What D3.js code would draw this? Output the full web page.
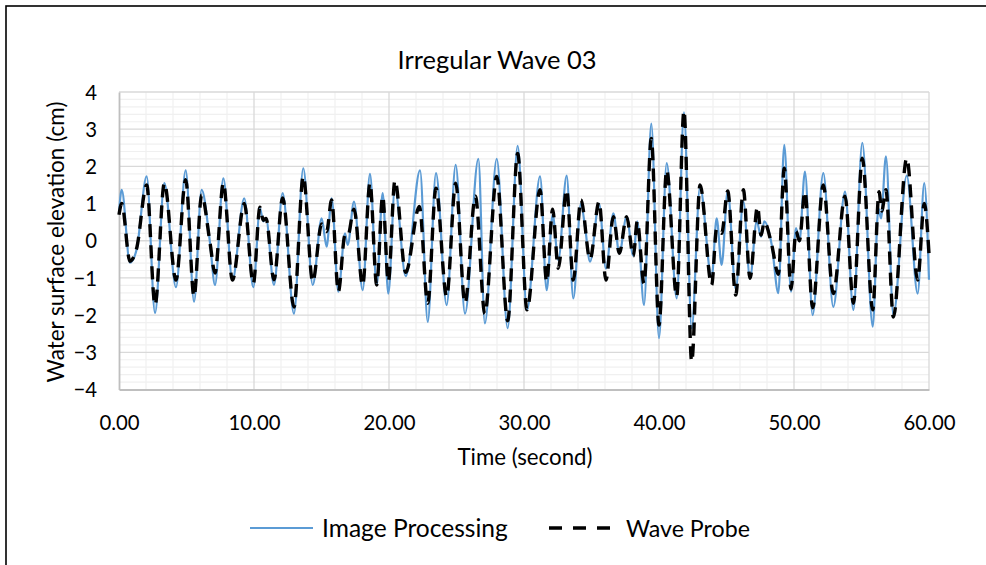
<!DOCTYPE html>
<html>
<head>
<meta charset="utf-8">
<script src="https://cdn.jsdelivr.net/npm/d3@7/dist/d3.min.js"></script>
<style>
  body { margin: 0; background: #fff; }
  svg text { font-family: Lato, "Open Sans", sans-serif; fill: #000; }
</style>
</head>
<body>
<svg id="chart" width="986" height="565"></svg>
<script>
// peaks and troughs, seconds / cm
const ipTime = [0, 0.2, 0.81, 1.31, 2.05, 2.67, 3.36, 4.22, 4.94, 5.56, 6.12, 6.74, 7.11, 7.73, 8.4, 9.28, 9.95,
  10.44, 10.69, 10.89, 11.48, 12.12, 12.96, 13.65, 14.35, 15.01, 15.38, 15.75, 16.25, 16.74, 16.94, 17.41, 18.05,
  18.59, 19.09, 19.53, 19.95, 20.44, 21.24, 22.3, 22.87, 23.48, 24.27, 24.94, 25.63, 26.62, 27.1, 27.98, 28.79,
  29.53, 30.22, 31.19, 31.68, 32.12, 32.54, 33.16, 33.65, 34.22, 34.52, 34.89, 35.56, 36.07, 36.62, 37.06, 37.6,
  38.1, 38.39, 38.89, 39.43, 40.0, 40.57, 41.31, 41.85, 42.42, 43.04, 43.9, 44.27, 44.64, 45.09, 45.68, 46.25,
  46.74, 47.24, 47.56, 47.8, 48.35, 48.84, 49.28, 49.78, 50.15, 50.4, 50.81, 51.38, 52.17, 52.91, 53.78, 54.4,
  55.06, 55.83, 56.25, 56.45, 56.81, 57.36, 58.35, 59.16, 59.65, 60];
const ipValue = [0.75, 1.37, -0.59, -0.23, 1.73, -1.94, 1.55, -1.25, 1.89, -1.64, 1.37, -0.05, -1.19, 1.68, -1.06, 1.14, -1.25,
  0.87, 0.52, 0.6, -1.19, 1.28, -1.96, 1.95, -1.19, 0.6, -0.16, 1.14, -1.37, 0.2, -0.11, 1.05, -1.33,
  1.8, -1.19, 1.28, -1.42, 1.42, -0.95, 1.89, -2.18, 1.82, -1.73, 2.04, -1.96, 2.2, -2.22, 2.2, -2.35,
  2.55, -1.86, 1.73, -1.33, 0.7, -0.52, 1.75, -1.55, 1.0, 0.38, -0.56, 1.0, -0.75, 0.74, -0.34, 0.65,
  -0.41, 0.52, -1.73, 3.15, -2.62, 2.09, -1.55, 3.45, -2.36, 1.45, -1.0, 0.6, -0.65, 1.34, -1.3, 1.05,
  -1.01, 0.52, 0.11, 0.52, -0.11, -1.41, 2.58, -1.37, 0.34, -0.02, 1.86, -2.0, 1.82, -1.78, 1.32, -1.86,
  2.63, -2.31, 0.87, 0.6, 2.27, -2.0, 1.75, -1.42, 1.55, -1.05];

const wpTime = [0, 0.2, 0.81, 1.31, 2.05, 2.67, 3.36, 4.22, 4.94, 5.56, 6.12, 6.74, 7.11, 7.73, 8.4, 9.28, 9.95,
  10.44, 10.69, 10.89, 11.48, 12.12, 12.96, 13.65, 14.35, 15.01, 15.38, 15.75, 16.25, 16.74, 16.94, 17.41, 18.05,
  18.59, 19.09, 19.53, 19.95, 20.44, 21.24, 22.25, 22.87, 23.48, 24.27, 24.94, 25.63, 26.4, 27.1, 27.98, 28.79,
  29.53, 30.22, 31.19, 31.68, 32.12, 32.54, 33.16, 33.65, 34.22, 34.89, 35.56, 36.07, 36.62, 37.06, 37.6,
  38.1, 38.39, 38.89, 39.43, 40.0, 40.57, 41.31, 41.85, 42.42, 43.04, 43.9, 44.27, 44.64, 45.09, 45.68, 46.25,
  46.74, 47.3, 47.56, 47.8, 48.35, 48.84, 49.28, 49.78, 50.15, 50.4, 50.81, 51.38, 52.17, 52.91, 53.78, 54.4,
  55.06, 55.83, 56.3, 56.5, 56.81, 57.36, 58.35, 59.16, 59.65, 60];
const wpValue = [0.7, 1.0, -0.55, -0.2, 1.5, -1.73, 1.55, -1.06, 1.64, -1.5, 1.23, -0.05, -0.87, 1.55, -1.06, 1.0, -1.15,
  0.9, 0.55, 0.6, -1.05, 1.15, -1.78, 1.73, -1.1, 0.45, 0.25, 1.1, -1.37, 0.15, 0.12, 0.85, -1.2,
  1.55, -1.19, 1.2, -1.1, 1.62, -0.85, 0.92, -1.68, 1.41, -1.5, 1.55, -1.68, 1.2, -1.96, 1.73, -2.15,
  2.35, -1.86, 1.37, -1.1, 0.85, -0.74, 1.37, -1.06, 1.1, -0.5, 1.05, -1.06, 0.65, -0.34, 0.65,
  -0.41, 0.52, -1.15, 2.75, -2.27, 1.9, -1.5, 3.5, -3.25, 1.5, -1.19, 0.33, 0.2, 1.34, -1.46, 1.37,
  -1.01, 0.92, 0.15, 0.5, -0.11, -0.9, 1.95, -1.3, 0.25, 0.0, 1.32, -1.8, 1.5, -1.42, 1.2, -1.68,
  2.22, -1.86, 1.32, 0.8, 1.37, -2.05, 2.22, -1.06, 1.0, -0.35];

const xTicks = [0, 10, 20, 30, 40, 50, 60];
const yTicks = [-4, -3, -2, -1, 0, 1, 2, 3, 4];
const seriesNames = ["Image Processing", "Wave Probe"];

const BLUE = "#5b9bd5";
const svg = d3.select("#chart");

// the reference used Calibri; scale the stand-in font so text widths line up
function fitWidth(sel, width) {
  const w = sel.node().getComputedTextLength();
  const size = +sel.attr("font-size") * width / w;
  sel.attr("font-size", size);
  return size;
}

// chart frame (only left/top edges fall inside the window)
svg.append("rect")
  .attr("x", 6).attr("y", 6).attr("width", 1000).attr("height", 600)
  .attr("fill", "none").attr("stroke", "#000").attr("stroke-width", 1.6);

const x = d3.scaleLinear().domain([0, 60]).range([119, 929]);
const y = d3.scaleLinear().domain([-4, 4]).range([389.5, 92]);

// minor grid
const grid = svg.append("g");
grid.selectAll(".vminor").data(d3.range(0, 61, 2).filter(d => d % 10 !== 0))
  .join("line")
  .attr("x1", d => x(d)).attr("x2", d => x(d))
  .attr("y1", y(4)).attr("y2", y(-4))
  .attr("stroke", "#f0f0f0").attr("stroke-width", 1.2);
grid.selectAll(".hminor").data(d3.range(-40, 41, 2).filter(d => d % 10 !== 0).map(d => d / 10))
  .join("line")
  .attr("x1", x(0)).attr("x2", x(60))
  .attr("y1", d => y(d)).attr("y2", d => y(d))
  .attr("stroke", "#f0f0f0").attr("stroke-width", 1.2);

// major grid
grid.selectAll(".vmajor").data(xTicks.slice(1))
  .join("line")
  .attr("x1", d => x(d)).attr("x2", d => x(d))
  .attr("y1", y(4)).attr("y2", y(-4))
  .attr("stroke", "#d9d9d9").attr("stroke-width", 1.3);
grid.selectAll(".hmajor").data(yTicks.slice(1))
  .join("line")
  .attr("x1", x(0)).attr("x2", x(60))
  .attr("y1", d => y(d)).attr("y2", d => y(d))
  .attr("stroke", "#d9d9d9").attr("stroke-width", 1.3);

// axes
const xAxis = svg.append("g")
  .attr("transform", `translate(0,${y(-4)})`)
  .call(d3.axisBottom(x).tickValues(xTicks).tickSize(0).tickFormat(d3.format(".2f")));
const yAxis = svg.append("g")
  .attr("transform", `translate(${x(0)},0)`)
  .call(d3.axisLeft(y).tickValues(yTicks).tickSize(0).tickFormat(d3.format("d")));
[xAxis, yAxis].forEach(a => {
  a.select(".domain").attr("stroke", "#bfbfbf").attr("stroke-width", 1.8);
  a.selectAll("text").attr("font-size", 20).attr("font-family", "Lato, sans-serif").attr("fill", "#000");
});
const tickSize = fitWidth(xAxis.selectAll("text").filter(d => d === 20), 52);
xAxis.selectAll("text").attr("font-size", tickSize).attr("dy", null).attr("y", 430 - y(-4));
yAxis.selectAll("text").attr("font-size", tickSize).attr("dy", "0.35em").attr("x", -22);

// series
const line = d3.line().x(d => x(d[0])).y(d => y(d[1])).curve(d3.curveMonotoneX);
const ipData = d3.zip(ipTime, ipValue);
const wpData = d3.zip(wpTime, wpValue);

svg.append("path").datum(ipData)
  .attr("d", line)
  .attr("fill", "none").attr("stroke", BLUE).attr("stroke-width", 2.2);

svg.append("path").datum(wpData)
  .attr("d", line)
  .attr("fill", "none").attr("stroke", "#000").attr("stroke-width", 3.4)
  .attr("stroke-dasharray", "13,8");

// titles
fitWidth(svg.append("text")
  .attr("x", 497).attr("y", 69)
  .attr("text-anchor", "middle").attr("font-size", 20)
  .text("Irregular Wave 03"), 199);

fitWidth(svg.append("text")
  .attr("x", 525).attr("y", 465)
  .attr("text-anchor", "middle").attr("font-size", 20)
  .text("Time (second)"), 135);

fitWidth(svg.append("text")
  .attr("transform", "translate(64,242) rotate(-90)")
  .attr("text-anchor", "middle").attr("font-size", 20)
  .text("Water surface elevation (cm)"), 281);

// legend
const legend = svg.append("g");
legend.append("line")
  .attr("x1", 250).attr("x2", 313).attr("y1", 528).attr("y2", 528)
  .attr("stroke", BLUE).attr("stroke-width", 2.2);
fitWidth(legend.append("text")
  .attr("x", 322).attr("y", 537).attr("font-size", 20)
  .text(seriesNames[0]), 186);
legend.append("line")
  .attr("x1", 549).attr("x2", 610).attr("y1", 528).attr("y2", 528)
  .attr("stroke", "#000").attr("stroke-width", 3.4)
  .attr("stroke-dasharray", "13,11");
fitWidth(legend.append("text")
  .attr("x", 626).attr("y", 537).attr("font-size", 20)
  .text(seriesNames[1]), 124);
</script>
</body>
</html>
